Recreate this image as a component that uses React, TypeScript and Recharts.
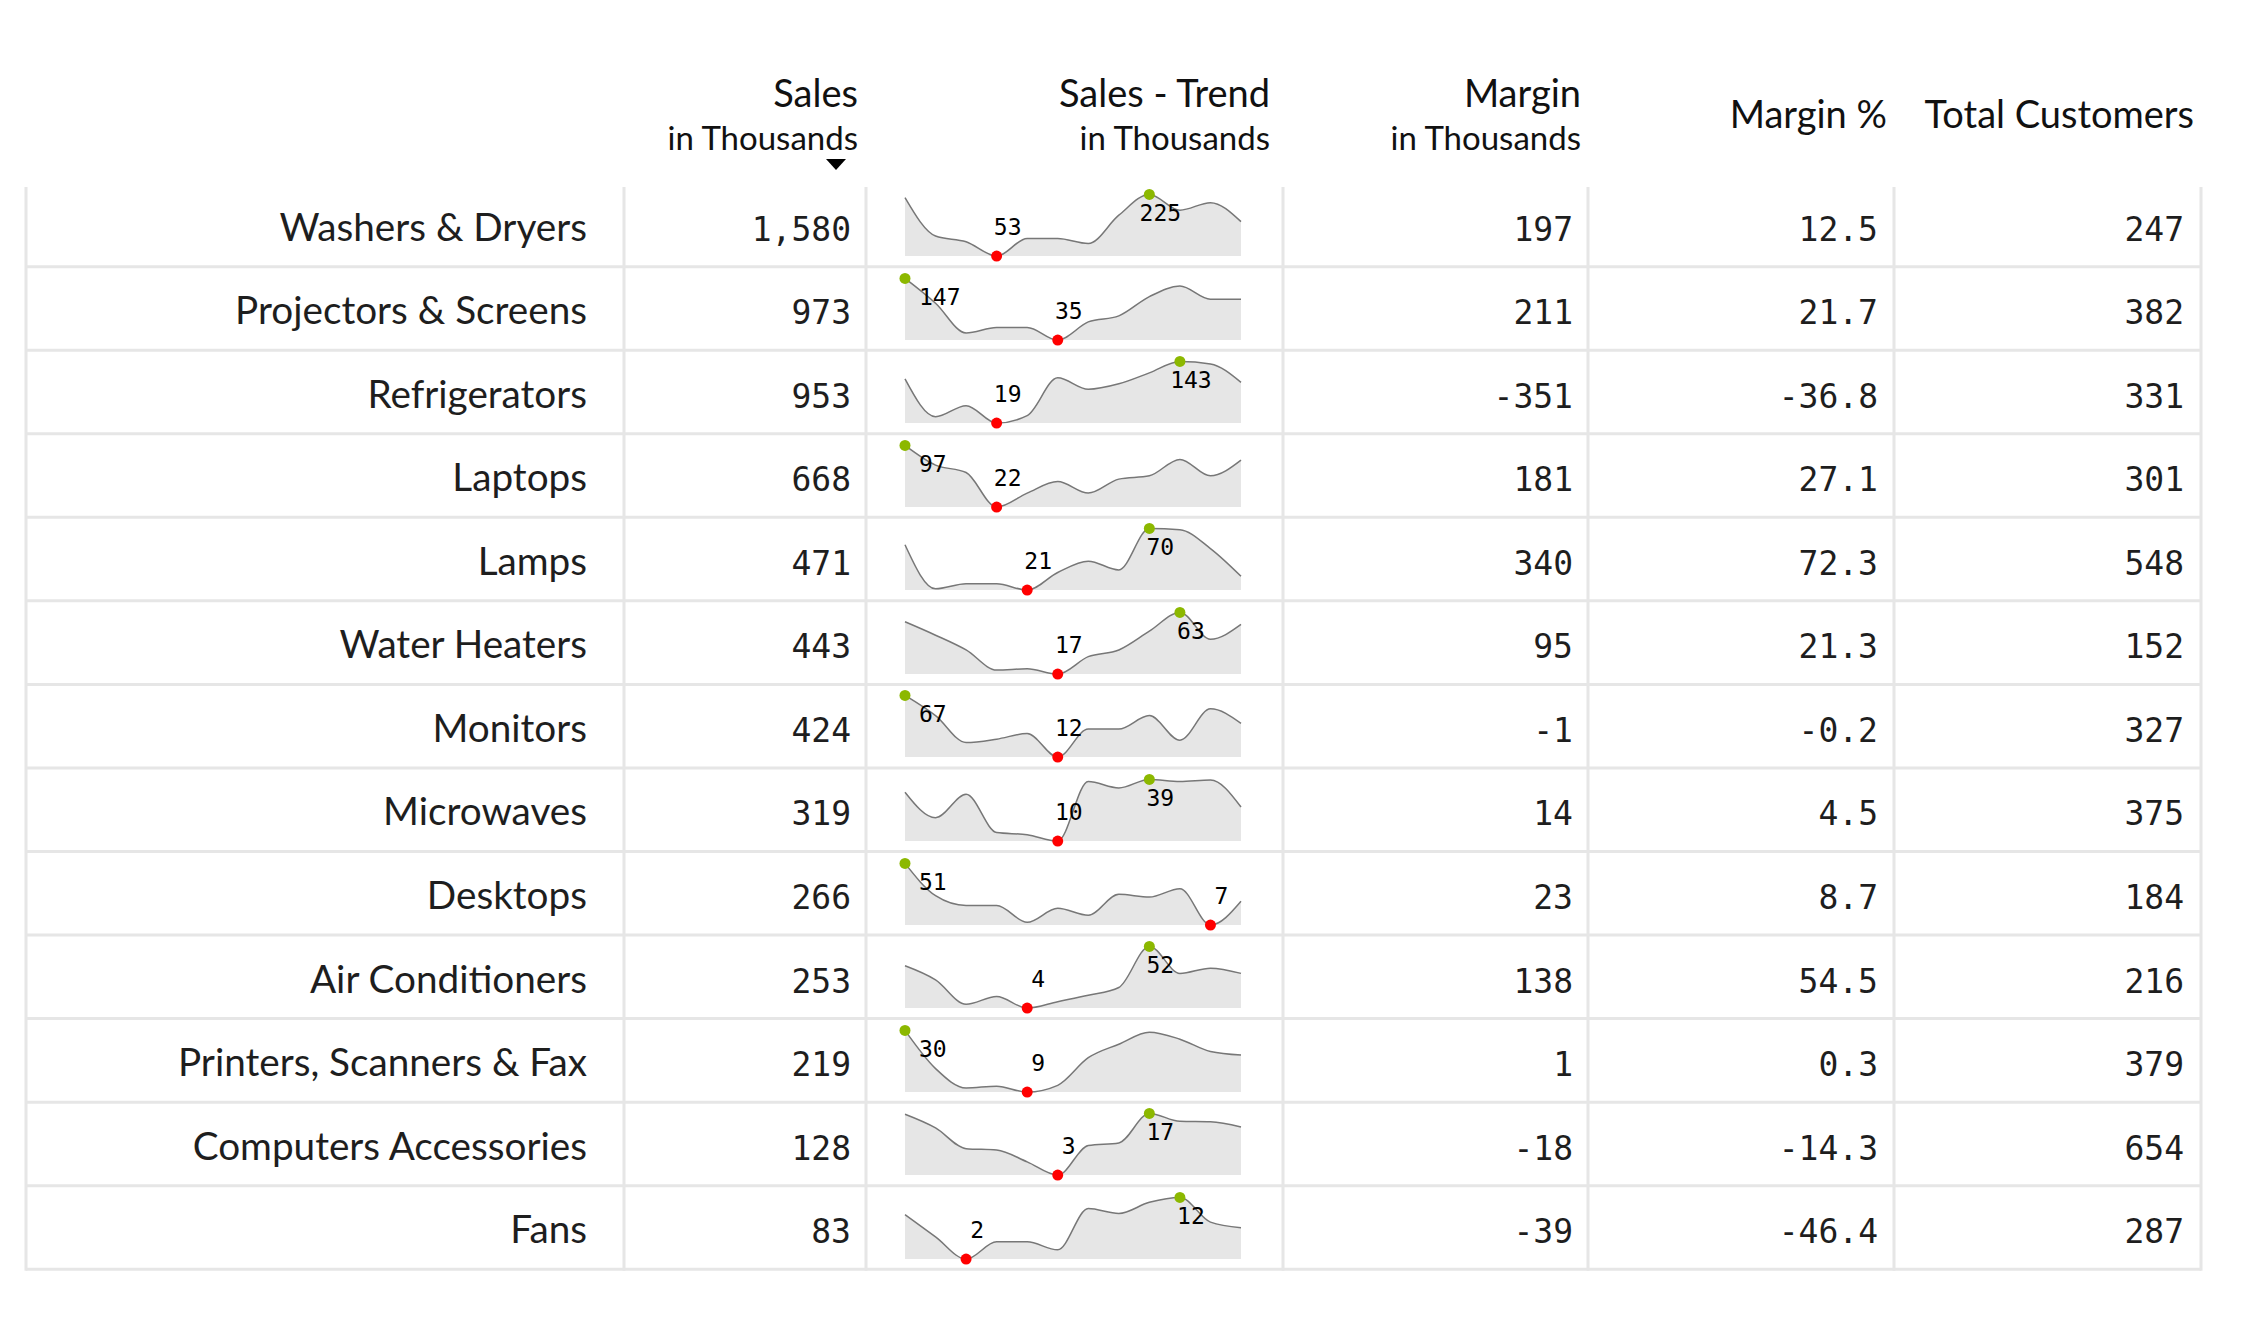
import { AreaChart, Area, XAxis, YAxis } from "recharts";

const months = ["Jan", "Feb", "Mar", "Apr", "May", "Jun", "Jul", "Aug", "Sep", "Oct", "Nov", "Dec"];

const categories = [
  "Washers & Dryers",
  "Projectors & Screens",
  "Refrigerators",
  "Laptops",
  "Lamps",
  "Water Heaters",
  "Monitors",
  "Microwaves",
  "Desktops",
  "Air Conditioners",
  "Printers, Scanners & Fax",
  "Computers Accessories",
  "Fans",
];

const sales = [1580, 973, 953, 668, 471, 443, 424, 319, 266, 253, 219, 128, 83];
const margin = [197, 211, -351, 181, 340, 95, -1, 14, 23, 138, 1, -18, -39];
const marginPct = [12.5, 21.7, -36.8, 27.1, 72.3, 21.3, -0.2, 4.5, 8.7, 54.5, 0.3, -14.3, -46.4];
const customers = [247, 382, 331, 301, 548, 152, 327, 375, 184, 216, 379, 654, 287];

// monthly sales per category, in thousands
const salesTrend = [
  [216, 109, 93, 53, 102, 102, 88, 167, 225, 181, 202, 149],
  [147, 102, 48, 58, 58, 35, 68, 79, 114, 133, 109, 109],
  [108, 32, 54, 19, 34, 110, 87, 98, 120, 143, 138, 101],
  [97, 73, 64, 22, 39, 53, 39, 56, 60, 80, 60, 79],
  [57, 22, 26, 26, 21, 35, 44, 37, 70, 69, 54, 32],
  [56, 46, 35, 20, 21, 17, 30, 35, 49, 63, 43, 54],
  [67, 49, 25, 28, 33, 12, 37, 37, 49, 27, 55, 42],
  [33, 21, 32, 14, 13, 10, 38, 35, 39, 38, 38.7, 26],
  [51, 28, 21, 21, 9, 19, 14, 29, 27, 33, 7, 24],
  [37, 26, 7, 13, 4, 9, 14, 20, 52, 31, 35, 31],
  [30, 17, 10.4, 11, 9, 11.3, 20.7, 25.3, 29.4, 27, 22.8, 21.6],
  [16.8, 13.7, 9, 8.7, 6, 3, 9.7, 10.3, 17, 15.2, 15.1, 13.9],
  [9.2, 5.6, 2, 4.8, 4.8, 3.5, 10.2, 9.4, 11.2, 12, 8, 7.1],
];

const ROW_TOP = 183.1;
const ROW_H = 83.55;
const COLS = [26, 624, 866, 1283, 1588, 1894, 2201];
const LINE = "#e6e6e6";
const SANS = "Lato, 'Noto Sans', sans-serif";
const MONO = "'DejaVu Sans Mono', monospace";

const fmt = (n: number) => n.toLocaleString("en-US");

function Sparkline({ values, top }: { values: number[]; top: number }) {
  const data = months.map((m, i) => ({ month: m, value: values[i] }));
  const min = Math.min(...values);
  const max = Math.max(...values);
  const minIdx = values.indexOf(min);
  const maxIdx = values.indexOf(max);

  const renderDot = (p: any) => {
    const { cx, cy, index } = p;
    if (index !== minIdx && index !== maxIdx) return <g key={`d${index}`} />;
    const isMax = index === maxIdx;
    const first = index === 0;
    return (
      <g key={`d${index}`}>
        <circle cx={cx} cy={cy} r={5.5} fill={isMax ? "#8cb800" : "#ff0000"} />
        <text
          x={first ? cx + 14 : cx + 11}
          y={isMax ? cy + 27 : cy - 21}
          textAnchor={first ? "start" : "middle"}
          fontFamily={MONO}
          fontSize={23}
          fill="#000"
        >
          {Math.round(isMax ? max : min)}
        </text>
      </g>
    );
  };

  return (
    <div style={{ position: "absolute", left: 893, top, width: 360, height: 84 }}>
      <AreaChart width={360} height={84} data={data} margin={{ top: 11.4, right: 12, bottom: 10.9, left: 12 }}>
        <XAxis dataKey="month" hide />
        <YAxis domain={["dataMin", "dataMax"]} hide />
        <Area
          type="monotone"
          dataKey="value"
          stroke="#777"
          strokeWidth={1.5}
          fill="#e6e6e6"
          fillOpacity={1}
          dot={renderDot}
          activeDot={false}
          isAnimationActive={false}
        />
      </AreaChart>
    </div>
  );
}

export default function App() {
  const bottom = ROW_TOP + categories.length * ROW_H;
  return (
    <div style={{ position: "absolute", left: 0, top: 0, width: 2260, height: 1319, background: "#fff", overflow: "hidden" }}>
      <svg width={2260} height={1319} style={{ position: "absolute", left: 0, top: 0 }}>
        {/* header */}
        <g fontFamily={SANS} fill="#111" textAnchor="end">
          <text x={858} y={107} fontSize={38}>Sales</text>
          <text x={858} y={150} fontSize={33}>in Thousands</text>
          <polygon points="826,159 846,159 836,170" fill="#000" />
          <text x={1270} y={107} fontSize={38}>Sales - Trend</text>
          <text x={1270} y={150} fontSize={33}>in Thousands</text>
          <text x={1581} y={107} fontSize={38}>Margin</text>
          <text x={1581} y={150} fontSize={33}>in Thousands</text>
          <text x={1887} y={128} fontSize={38}>Margin %</text>
          <text x={2194} y={128} fontSize={38}>Total Customers</text>
        </g>

        {/* grid */}
        {categories.map((_, i) => (
          <line key={`h${i}`} x1={COLS[0]} x2={COLS[6]} y1={ROW_TOP + (i + 1) * ROW_H} y2={ROW_TOP + (i + 1) * ROW_H} stroke={LINE} strokeWidth={3} />
        ))}
        {COLS.map((x) => (
          <line key={`v${x}`} x1={x} x2={x} y1={187} y2={bottom + 1.5} stroke={LINE} strokeWidth={3} />
        ))}

        {/* rows */}
        {categories.map((c, i) => {
          const y = ROW_TOP + i * ROW_H;
          return (
            <g key={c} fill="#1e1e1e" textAnchor="end">
              <text x={587} y={y + 57.5} fontFamily={SANS} fontSize={38.7}>{c}</text>
              <g fontFamily={MONO} fontSize={33}>
                <text x={851} y={y + 57.5}>{fmt(sales[i])}</text>
                <text x={1573} y={y + 57.5}>{margin[i]}</text>
                <text x={1878} y={y + 57.5}>{marginPct[i].toFixed(1)}</text>
                <text x={2184} y={y + 57.5}>{customers[i]}</text>
              </g>
            </g>
          );
        })}
      </svg>

      {salesTrend.map((vals, i) => (
        <Sparkline key={categories[i]} values={vals} top={ROW_TOP + i * ROW_H} />
      ))}
    </div>
  );
}
